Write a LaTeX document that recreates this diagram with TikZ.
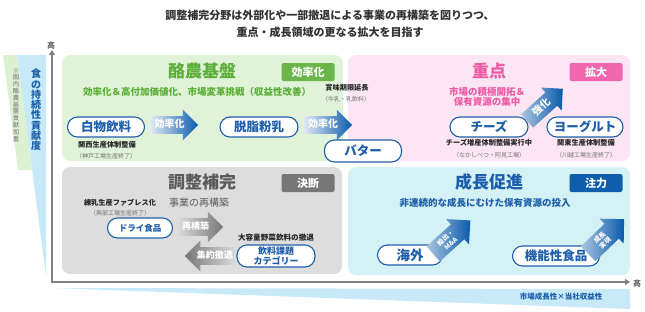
\documentclass[tikz,border=0pt]{standalone}
\usepackage{fontspec}
\setmainfont{Noto Sans CJK JP}
\usepackage{xcolor}
\usetikzlibrary{shapes.arrows,arrows.meta,positioning}
\definecolor{dairygreen}{HTML}{5BAE37}
\definecolor{dairybg}{HTML}{E0F3D9}
\definecolor{dairytag}{HTML}{6CB54A}
\definecolor{focuspink}{HTML}{EE5AA6}
\definecolor{focusbg}{HTML}{FDE6F3}
\definecolor{focustag}{HTML}{F268B0}
\definecolor{adjustgray}{HTML}{5A5A5A}
\definecolor{adjustbg}{HTML}{DDDDDD}
\definecolor{adjusttag}{HTML}{777777}
\definecolor{growthblue}{HTML}{1B5EA9}
\definecolor{growthbg}{HTML}{D4F1F5}
\definecolor{growthtag}{HTML}{0F5EAC}
\definecolor{pillblue}{HTML}{1F5FAA}
\definecolor{arrowblue}{HTML}{0B5AAB}
\definecolor{arrowgray}{HTML}{767676}
\definecolor{axisgray}{HTML}{808080}
\definecolor{sideblue}{HTML}{C8EAF8}
\definecolor{sidegreen}{HTML}{DCF0D2}
\definecolor{titlegray}{HTML}{333333}

\begin{document}
\begin{tikzpicture}[x=1pt,y=-1pt,
        head/.style={font=\bfseries\fontsize{17}{17}\selectfont},
        tagbox/.style={rounded corners=2pt,text=white,minimum width=53pt,minimum height=18pt,inner sep=0pt,font=\bfseries\fontsize{11}{11}\selectfont},
        pill/.style={draw=pillblue,line width=1.1pt,fill=white,rounded corners=10pt,text=pillblue,minimum height=20pt,inner sep=1pt,font=\bfseries\fontsize{12.5}{12.5}\selectfont},
        note/.style={inner sep=0pt,text=black!85,font=\bfseries\fontsize{7.2}{8}\selectfont},
        subnote/.style={inner sep=0pt,text=black!55,font=\fontsize{6}{7}\selectfont},
        lead/.style={inner sep=0pt,font=\bfseries\fontsize{9.5}{11}\selectfont},
        blockarrow/.style={single arrow,single arrow head extend=6.5pt,draw=none,inner xsep=2pt,inner ysep=4.5pt,text=white,font=\bfseries\fontsize{10}{10}\selectfont},
        flatarrow/.style={blockarrow,text height=7pt,text depth=1.5pt},
        twolinearrow/.style={blockarrow,single arrow head extend=7pt,minimum width=33pt,inner ysep=3pt,align=center,font=\bfseries\fontsize{6.5}{8}\selectfont},
        bluearrow/.style={left color=arrowblue!12,right color=arrowblue},
        deeparrow/.style={left color=arrowblue!35,right color=arrowblue},
        grayarrow/.style={left color=arrowgray!25,right color=arrowgray}]
        \useasboundingbox (0,0) rectangle (645,311);
        \node (title1) [text=titlegray,font=\bfseries\fontsize{11}{11}\selectfont] at (330,15) {調整補完分野は外部化や一部撤退による事業の再構築を図りつつ、};
        \node (title2) [text=titlegray,font=\bfseries\fontsize{11}{11}\selectfont] at (330,32) {重点・成長領域の更なる拡大を目指す};
        \fill [sidegreen] (3,55) -- (17,55) -- (32,170) -- (18,170) -- cycle;
        \fill [sideblue] (17,55) -- (46,55) -- (46,276) -- cycle;
        \fill [sideblue] (53,288) -- (630,289) -- (630,309) -- cycle;
        \node (contrib) [text=growthblue,align=center,font=\bfseries\fontsize{10}{10.3}\selectfont] at (36,110) {食\\の\\持\\続\\性\\貢\\献\\度};
        \node (weighted) [text=black!55,align=center,font=\fontsize{6.3}{6.8}\selectfont] at (16,105) {※\\国\\内\\酪\\農\\基\\盤\\貢\\献\\加\\重};
        \fill [dairybg,rounded corners=8pt] (62,55) rectangle (343,161);
        \fill [focusbg,rounded corners=8pt] (348,55) rectangle (630,161);
        \fill [adjustbg,rounded corners=8pt] (62,167) rectangle (342,274);
        \fill [growthbg,rounded corners=8pt] (348,167) rectangle (630,275);
        \coordinate (origin) at (52,282);
        \coordinate (ytop) at (52,50);
        \coordinate (xend) at (630,282);
        \draw [axisgray,line width=1.8pt,{Triangle[length=5pt,width=6pt]}-{Triangle[length=5pt,width=6pt]}] (ytop) -- (origin) -- (xend);
        \node (yhigh) [font=\fontsize{8}{8}\selectfont] at (51,45) {高};
        \node (xhigh) [font=\fontsize{8}{8}\selectfont] at (637,283) {高};
        \node (xlabel) [text=growthblue,font=\bfseries\fontsize{7.5}{8}\selectfont] at (561,297) {市場成長性×当社収益性};
        \node (dairy) [head,text=dairygreen] at (202,71) {酪農基盤};
        \node (dairytag) [tagbox,fill=dairytag] at (308,72) {効率化};
        \node (dairylead) [lead,text=dairygreen] at (197,92) {効率化＆高付加価値化、市場変革挑戦（収益性改善）};
        \node (milk) [pill,minimum width=77pt] at (106,127) {白物飲料};
        \node (eff1) [flatarrow,bluearrow,anchor=tail,minimum height=48pt] at (150,125) {効率化};
        \node (skim) [pill,minimum width=78pt] at (259,127) {脱脂粉乳};
        \node (eff2) [flatarrow,bluearrow,anchor=tail,minimum height=49pt] at (303,125) {効率化};
        \node (butter) [pill,minimum width=77pt,minimum height=22pt] at (363,151) {バター};
        \node (kansai) [note,anchor=west] at (78,145) {関西生産体制整備};
        \node (kobe) [subnote,anchor=west] at (76,156) {（神戸工場生産終了）};
        \node (shelf) [note] at (347,88) {賞味期限延長};
        \node (shelfsub) [subnote] at (346,99) {（牛乳・乳飲料）};
        \node (focus) [head,text=focuspink] at (489,71) {重点};
        \node (focustag) [tagbox,fill=focustag] at (596,72) {拡大};
        \node (focuslead) [lead,text=focuspink,align=center,font=\bfseries\fontsize{9.5}{10.5}\selectfont] at (487,97) {市場の積極開拓＆\\保有資源の集中};
        \node (cheese) [pill,minimum width=78pt] at (489,127) {チーズ};
        \node (yogurt) [pill,minimum width=76pt] at (585,127) {ヨーグルト};
        \node (boost) [flatarrow,deeparrow,rotate=42,anchor=tail,minimum height=48pt] at (527,121) {強化};
        \node (cheesenote) [note] at (489,143) {チーズ増産体制整備実行中};
        \node (cheesesub) [subnote] at (489,155) {（なかしべつ・阿見工場）};
        \node (kanto) [note] at (586,143) {関東生産体制整備};
        \node (kantosub) [subnote] at (586,155) {（川越工場生産終了）};
        \node (adjust) [head,text=adjustgray] at (202,182) {調整補完};
        \node (adjusttag) [tagbox,fill=adjusttag] at (308,183) {決断};
        \node (condensed) [note] at (120,203) {練乳生産ファブレス化};
        \node (okoppe) [subnote] at (120,213) {（興部工場生産終了）};
        \node (rebuild) [inner sep=0pt,text=adjustgray,font=\fontsize{10}{10}\selectfont] at (199,203) {事業の再構築};
        \node (dry) [pill,minimum width=65pt,font=\bfseries\fontsize{8.5}{8.5}\selectfont] at (140,228) {ドライ食品};
        \node (restructure) [flatarrow,grayarrow,anchor=tail,minimum height=46pt,font=\bfseries\fontsize{9}{9}\selectfont] at (177,227) {再構築};
        \node (veg) [note,font=\bfseries\fontsize{7.6}{8}\selectfont] at (276,238) {大容量野菜飲料の撤退};
        \node (category) [pill,minimum width=78pt,minimum height=22pt,align=center,font=\bfseries\fontsize{9}{10}\selectfont] at (276,256) {飲料課題\\カテゴリー};
        \node (withdraw) [flatarrow,left color=arrowgray,right color=arrowgray!25,shape border rotate=180,anchor=tail,minimum height=51pt,font=\bfseries\fontsize{9}{9}\selectfont] at (236,256) {集約撤退};
        \node (growth) [head,text=growthblue] at (489,182) {成長促進};
        \node (growthtag) [tagbox,fill=growthtag] at (596,183) {注力};
        \node (growthlead) [lead,text=growthblue] at (485,203) {非連続的な成長にむけた保有資源の投入};
        \node (overseas) [pill,minimum width=65pt,font=\bfseries\fontsize{13.5}{13.5}\selectfont] at (410,255) {海外};
        \node (functional) [pill,minimum width=87pt] at (556,256) {機能性食品};
        \node (export) [twolinearrow,deeparrow,rotate=42,anchor=tail,minimum height=50pt] at (433,254) {輸出・\\M\&A};
        \node (realize) [twolinearrow,deeparrow,rotate=44,anchor=tail,minimum height=50pt] at (588,254) {成長\\実現};
\end{tikzpicture}
\end{document}
